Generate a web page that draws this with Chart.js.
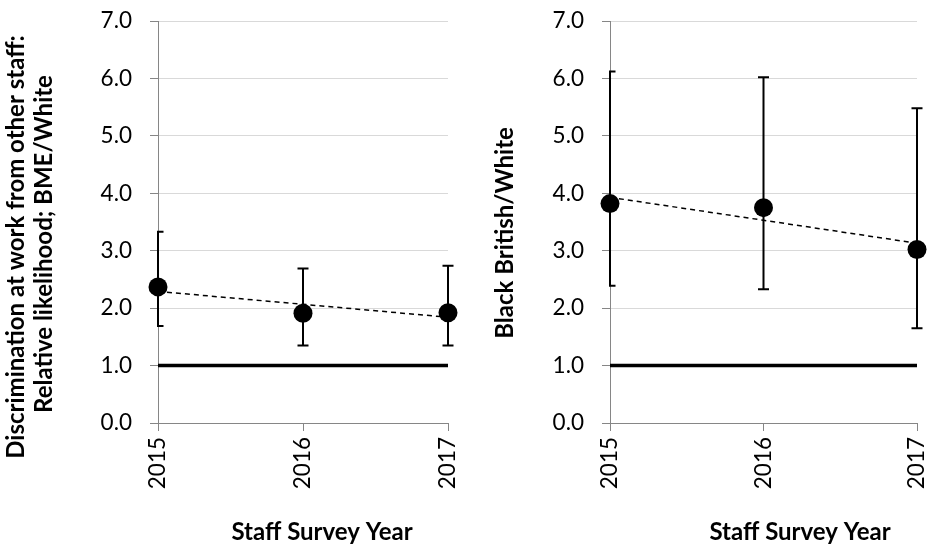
<!DOCTYPE html>
<html>
<head>
<meta charset="utf-8">
<script src="https://cdn.jsdelivr.net/npm/chart.js@4/dist/chart.umd.min.js"></script>
<style>
  html, body { margin: 0; padding: 0; background: #ffffff; }
  #wrap { position: relative; width: 927px; height: 544px; overflow: hidden; }
  canvas { position: absolute; top: 0; }
</style>
</head>
<body>
<div id="wrap">
  <canvas id="bme" width="463" height="544" style="left:0"></canvas>
  <canvas id="bbw" width="464" height="544" style="left:463px"></canvas>
</div>
<script>
// Survey years and y-axis ticks
const years = ['2015', '2016', '2017'];
const yTicks = [0, 1, 2, 3, 4, 5, 6, 7];

// Relative likelihood, BME vs White, with confidence limits
const bmeRatio = [2.37, 1.91, 1.92];
const bmeLow   = [1.69, 1.35, 1.35];
const bmeHigh  = [3.33, 2.69, 2.74];

// Relative likelihood, Black British vs White, with confidence limits
const bbwRatio = [3.82, 3.75, 3.02];
const bbwLow   = [2.39, 2.33, 1.65];
const bbwHigh  = [6.12, 6.02, 5.48];

// Parity reference (ratio of 1)
const parity = [1, 1, 1];

// Ordinary least-squares trend through the yearly ratios
function linearTrend(vals) {
  const n = vals.length;
  const mx = (n - 1) / 2;
  const my = vals.reduce((a, b) => a + b, 0) / n;
  let sxy = 0, sxx = 0;
  vals.forEach((v, i) => { sxy += (i - mx) * (v - my); sxx += (i - mx) * (i - mx); });
  const slope = sxy / sxx;
  return vals.map((_, i) => my + slope * (i - mx));
}

// Vertical error bars with caps, clipped at the left axis
const errorBars = {
  id: 'errorBars',
  afterDatasetsDraw(chart, args, opts) {
    const { ctx, chartArea, scales: { x, y } } = chart;
    ctx.save();
    ctx.beginPath();
    ctx.rect(chartArea.left - 1, 0, chart.width, chart.height);
    ctx.clip();
    ctx.strokeStyle = '#000000';
    ctx.lineWidth = 2;
    ctx.lineCap = 'butt';
    opts.low.forEach((lo, i) => {
      const px = x.getPixelForValue(i);
      const yl = y.getPixelForValue(lo);
      const yh = y.getPixelForValue(opts.high[i]);
      const c = 5.5;
      ctx.beginPath();
      ctx.moveTo(px, yl); ctx.lineTo(px, yh);
      ctx.moveTo(px - c, yl); ctx.lineTo(px + c, yl);
      ctx.moveTo(px - c, yh); ctx.lineTo(px + c, yh);
      ctx.stroke();
    });
    ctx.restore();
  }
};

// Axis titles placed freely on the canvas
const axisTitles = {
  id: 'axisTitles',
  afterDraw(chart, args, opts) {
    const ctx = chart.ctx;
    ctx.save();
    ctx.fillStyle = '#000000';
    ctx.font = 'bold 24px Lato';
    ctx.textAlign = 'center';
    ctx.textBaseline = 'middle';
    opts.items.forEach(t => {
      ctx.save();
      ctx.translate(t.x, t.y);
      if (t.vertical) ctx.rotate(-Math.PI / 2);
      ctx.fillText(t.text, 0, 0);
      ctx.restore();
    });
    ctx.restore();
  }
};

const tickFont = { family: 'Lato', size: 22.5 };

function buildChart(id, ratio, low, high, axisWidth, padRight, titles) {
  return new Chart(document.getElementById(id), {
    type: 'line',
    data: {
      labels: years,
      datasets: [
        {
          data: ratio,
          showLine: false,
          pointRadius: 9.5,
          pointHoverRadius: 9.5,
          pointBackgroundColor: '#000000',
          pointBorderColor: '#000000',
          pointBorderWidth: 0,
          clip: false,
          order: 0
        },
        {
          data: linearTrend(ratio),
          borderColor: '#000000',
          borderWidth: 1.5,
          borderDash: [5, 4],
          pointRadius: 0,
          tension: 0,
          clip: false,
          order: 1
        },
        {
          data: parity,
          borderColor: '#000000',
          borderWidth: 3.5,
          pointRadius: 0,
          tension: 0,
          order: 2
        }
      ]
    },
    options: {
      responsive: false,
      animation: false,
      events: [],
      layout: { padding: { top: 21, right: padRight, bottom: 0, left: 0 } },
      plugins: {
        legend: { display: false },
        tooltip: { enabled: false },
        errorBars: { low: low, high: high },
        axisTitles: { items: titles }
      },
      scales: {
        x: {
          type: 'category',
          offset: false,
          grid: {
            drawOnChartArea: false,
            drawTicks: true,
            tickLength: 8,
            color: '#868686',
            tickColor: '#868686'
          },
          border: { color: '#868686', width: 1 },
          ticks: {
            font: tickFont,
            color: '#000000',
            minRotation: 90,
            maxRotation: 90,
            autoSkip: false,
            padding: 6
          },
          afterFit(s) { s.height = 121; s.paddingLeft = 0; s.paddingRight = 0; }
        },
        y: {
          min: 0,
          max: 7,
          afterBuildTicks(s) { s.ticks = yTicks.map(v => ({ value: v })); },
          grid: {
            color: c => (c.tick && c.tick.value === 0 ? '#868686' : '#d9d9d9'),
            tickColor: '#868686',
            tickLength: 8,
            lineWidth: 1
          },
          border: { color: '#868686', width: 1 },
          ticks: {
            font: tickFont,
            color: '#000000',
            padding: 18,
            callback: v => Number(v).toFixed(1)
          },
          afterFit(s) { s.width = axisWidth; s.paddingTop = 0; s.paddingBottom = 0; }
        }
      }
    },
    plugins: [errorBars, axisTitles]
  });
}

buildChart('bme', bmeRatio, bmeLow, bmeHigh, 158, 15, [
  { text: 'Discrimination at work from other staff:', x: 16, y: 247, vertical: true },
  { text: 'Relative likelihood; BME/White', x: 44, y: 244, vertical: true },
  { text: 'Staff Survey Year', x: 322, y: 532 }
]);

buildChart('bbw', bbwRatio, bbwLow, bbwHigh, 147, 10, [
  { text: 'Black British/White', x: 42, y: 233, vertical: true },
  { text: 'Staff Survey Year', x: 337, y: 532 }
]);
</script>
</body>
</html>
